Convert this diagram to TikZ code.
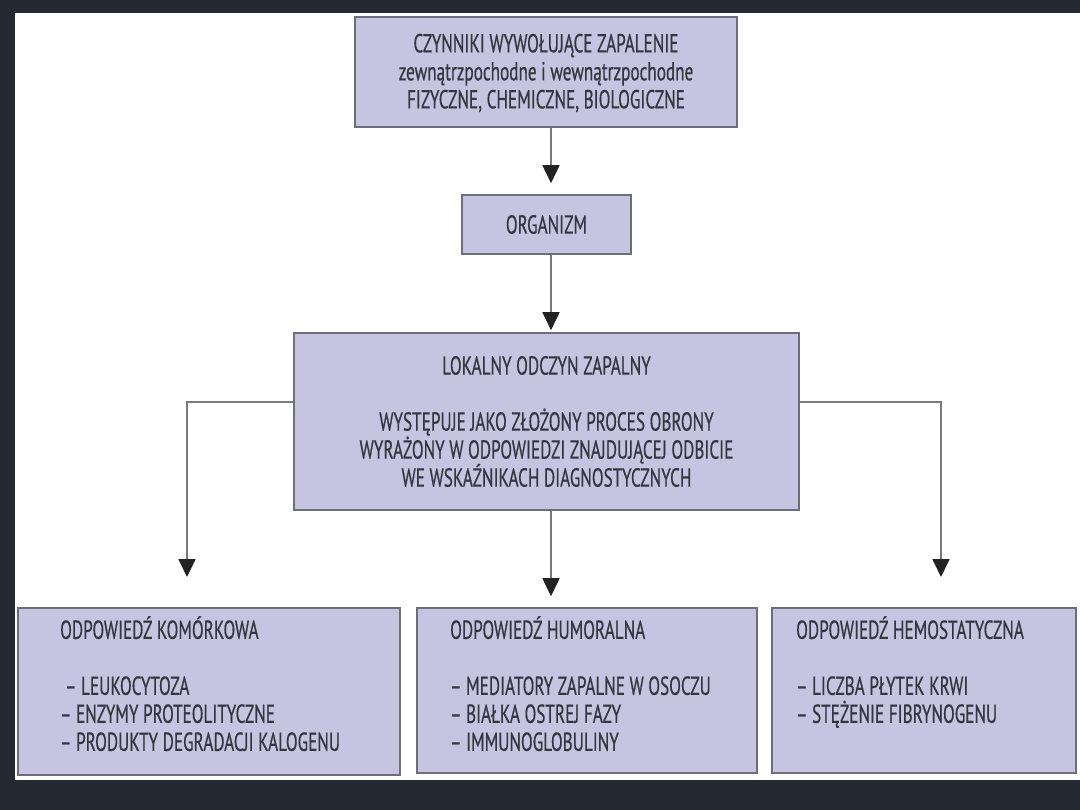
\documentclass[tikz,border=0pt]{standalone}
\usepackage{fontspec}
\setmainfont{PT Sans}[FakeStretch=0.66,FakeBold=0.5]
\usetikzlibrary{arrows.meta}
\definecolor{bgdark}{HTML}{242A32}
\definecolor{boxfill}{HTML}{C6C4E0}
\definecolor{boxline}{HTML}{6E6E78}
\definecolor{txt}{HTML}{35353F}
\definecolor{conn}{HTML}{7A7A7A}
\definecolor{tip}{HTML}{222222}
\tikzset{
  box/.style={draw=boxline, fill=boxfill, line width=1.6pt, inner sep=0pt},
  lbl/.style={text=txt, font=\fontsize{26}{28}\selectfont, inner sep=0pt, align=center},
  llbl/.style={text=txt, font=\fontsize{26}{28}\selectfont, inner sep=0pt, align=left, anchor=north west},
  conn/.style={draw=conn, line width=1.8pt, -{Triangle[width=17pt,length=18pt,color=tip]}}
}
\begin{document}
\begin{tikzpicture}[x=1pt,y=-1pt]
\fill[bgdark] (0,0) rectangle (1080,810);
\fill[white] (15,13) rectangle (1080,780);
\useasboundingbox (0,0) rectangle (1080,810);

\node[box, minimum width=382pt, minimum height=110pt] (top) at (546,72) {};
\node[lbl] (toptxt) at (546,73) {CZYNNIKI WYWOŁUJĄCE ZAPALENIE\\zewnątrzpochodne i wewnątrzpochodne\\FIZYCZNE, CHEMICZNE, BIOLOGICZNE};

\node[box, minimum width=169pt, minimum height=59pt] (org) at (546.5,224.5) {};
\node[lbl] (orgtxt) at (546.5,224.5) {ORGANIZM};

\node[box, minimum width=505pt, minimum height=177pt] (lok) at (546.5,421.5) {};
\node[lbl] (loktxt) at (546.5,421.5) {LOKALNY ODCZYN ZAPALNY\\[28pt]WYSTĘPUJE JAKO ZŁOŻONY PROCES OBRONY\\WYRAŻONY W ODPOWIEDZI ZNAJDUJĄCEJ ODBICIE\\WE WSKAŹNIKACH DIAGNOSTYCZNYCH};

\node[box, minimum width=382pt, minimum height=167pt] (kom) at (209,691.5) {};
\node[llbl] (komtxt) at (60,616) {ODPOWIEDŹ KOMÓRKOWA\\[28pt]\hspace{5pt}– LEUKOCYTOZA\\– ENZYMY PROTEOLITYCZNE\\– PRODUKTY DEGRADACJI KALOGENU};

\node[box, minimum width=340pt, minimum height=165pt] (hum) at (587,690.5) {};
\node[llbl] (humtxt) at (450,616) {ODPOWIEDŹ HUMORALNA\\[28pt]– MEDIATORY ZAPALNE W OSOCZU\\– BIAŁKA OSTREJ FAZY\\– IMMUNOGLOBULINY};

\node[box, minimum width=304pt, minimum height=165pt] (hem) at (924,690.5) {};
\node[llbl] (hemtxt) at (796,616) {ODPOWIEDŹ HEMOSTATYCZNA\\[28pt]– LICZBA PŁYTEK KRWI\\– STĘŻENIE FIBRYNOGENU};

\coordinate (ax) at (551,0);
\coordinate (lx) at (187,577);
\coordinate (rx) at (941,577);

\draw[conn, shorten >=11pt] (top.south -| ax) -- (org.north -| ax);
\draw[conn, shorten >=2pt] (org.south -| ax) -- (lok.north -| ax);
\draw[conn, shorten >=11pt] (lok.south -| ax) -- (hum.north -| ax);
\draw[conn] (lok.west |- 0,402) -| (lx);
\draw[conn] (lok.east |- 0,402) -| (rx);
\end{tikzpicture}
\end{document}
